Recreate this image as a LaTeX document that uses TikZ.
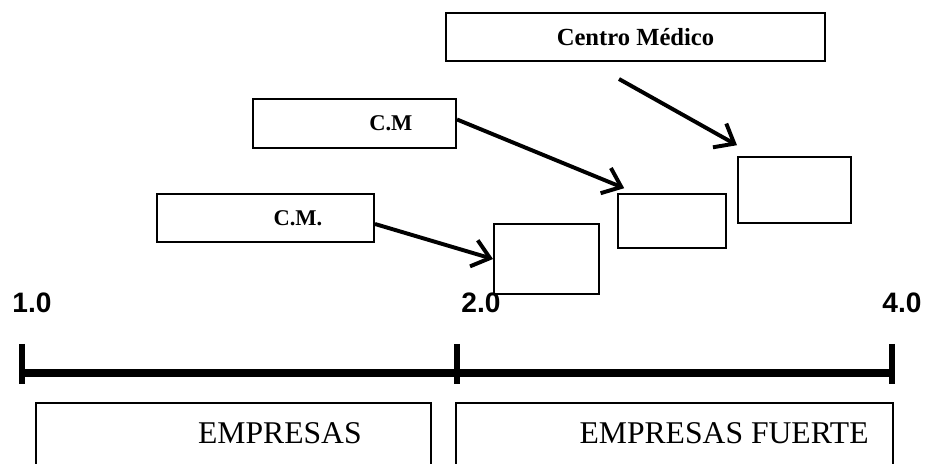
\documentclass[tikz,border=0pt]{standalone}
\usepackage{fontspec}
\setmainfont{Liberation Serif}
\newfontfamily\axisfont{Liberation Sans}
\usetikzlibrary{arrows.meta,positioning}

\begin{document}
\begin{tikzpicture}[x=0.025cm, y=-0.025cm,
    cmbox/.style={draw, line width=1.4pt, inner sep=0pt},
    cmtext/.style={font=\bfseries\fontsize{16}{19}\selectfont, inner sep=0pt},
    emptybox/.style={draw, line width=1.4pt, inner sep=0pt},
    sectorbox/.style={draw, line width=1pt, inner sep=0pt, minimum height=2.5cm},
    sectortext/.style={font=\fontsize{22.5}{26}\selectfont, inner sep=0pt},
    ticklabel/.style={font=\axisfont\bfseries\fontsize{20}{24}\selectfont, inner sep=0pt},
    arr/.style={-{Straight Barb[length=4.2mm,width=6.8mm]}, line width=2.8pt}]
    \path[use as bounding box, clip] (0,0) rectangle (930,464);

    % boxes with labels
    \node[cmbox,minimum width=9.475cm,minimum height=1.2cm,
      label={[cmtext,font=\bfseries\fontsize{17.5}{20}\selectfont]center:Centro Médico}] (med) at (635.5,37) {};
    \node[cmbox,minimum width=5.075cm,minimum height=1.225cm,
      label={[cmtext,xshift=0.91cm]center:C.M}] (cmb) at (354.5,123.5) {};
    \node[cmbox,minimum width=5.425cm,minimum height=1.2cm,
      label={[cmtext,xshift=0.81cm]center:C.M.}] (cma) at (265.5,218) {};

    % empty boxes
    \node[emptybox,minimum width=2.625cm,minimum height=1.75cm] (boxa) at (546.5,259) {};
    \node[emptybox,minimum width=2.7cm,minimum height=1.35cm] (boxb) at (672,221) {};
    \node[emptybox,minimum width=2.825cm,minimum height=1.65cm] (boxc) at (794.5,190) {};

    % arrows
    \coordinate (medtail) at (619,79);
    \draw[arr] ([yshift=-0.15cm]cma.east) -- (boxa.west);
    \draw[arr] ([yshift=0.1cm]cmb.east) -- ([shift={(0.18cm,0.12cm)}]boxb.north west);
    \draw[arr] (medtail) -- ([yshift=0.27cm]boxc.north west);

    % scale
    \draw[line width=5.7pt] (22,373) -- (892,373);
    \foreach \x in {22,457,892}
      \draw[line width=4.3pt] (\x,344) -- (\x,384);
    \node[ticklabel] (one) at (32,303) {1.0};
    \node[ticklabel] (two) at (481,303) {2.0};
    \node[ticklabel] (four) at (902,303) {4.0};

    % sectors
    \node[sectorbox,minimum width=9.875cm,
      label={[sectortext,xshift=1.16cm,yshift=0.49cm]center:EMPRESAS}] (weak) at (233.5,453) {};
    \node[sectorbox,minimum width=10.925cm,
      label={[sectortext,xshift=1.24cm,yshift=0.49cm]center:EMPRESAS FUERTE}] (strong) at (674.5,453) {};
  \end{tikzpicture}
\end{document}
